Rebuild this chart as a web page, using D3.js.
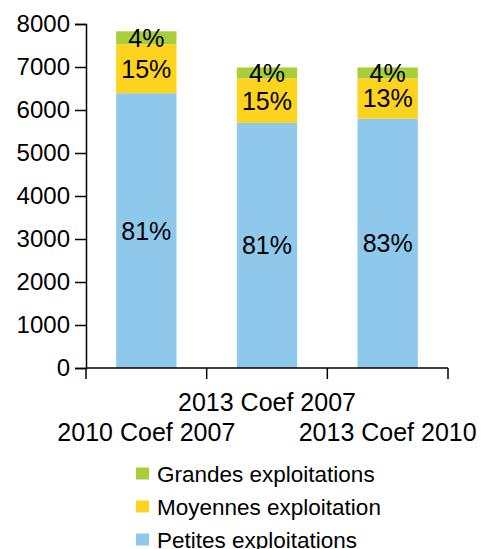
<!DOCTYPE html>
<html><head><meta charset="utf-8">
<script src="https://cdn.jsdelivr.net/npm/d3@7"></script>
<style>body{margin:0;background:#fff}svg{display:block;font-family:"Liberation Sans",Arial,sans-serif}</style>
</head><body><svg id="c" width="481" height="549"></svg>
<script>
const categories = ["2010 Coef 2007", "2013 Coef 2007", "2013 Coef 2010"];
const seriesNames = ["Petites exploitations", "Moyennes exploitation", "Grandes exploitations"];
const petites = [6390, 5700, 5800];
const moyennes = [1140, 1035, 935];
const grandes = [300, 255, 255];
const petitesLabels = ["81%", "81%", "83%"];
const moyennesLabels = ["15%", "15%", "13%"];
const grandesLabels = ["4%", "4%", "4%"];
const yTicks = [0, 1000, 2000, 3000, 4000, 5000, 6000, 7000, 8000];
const colors = ["#8ec8eb", "#fdd31e", "#a9cf38"];

const svg = d3.select("#c");
const x = d3.scaleBand().domain(categories).range([86, 448]).paddingInner(0.5).paddingOuter(0.25);
const xb = d3.scaleBand().domain(categories).range([86, 448]);
const y = d3.scaleLinear().domain([0, 8000]).range([368, 24]);

const values = [petites, moyennes, grandes];
const labels = [petitesLabels, moyennesLabels, grandesLabels];
const rows = categories.map((c, i) => {
  const o = {cat: c};
  seriesNames.forEach((s, k) => o[s] = values[k][i]);
  return o;
});
const stack = d3.stack().keys(seriesNames)(rows);

stack.forEach((layer, k) => {
  svg.append("g").selectAll("rect").data(layer).join("rect")
    .attr("x", d => x(d.data.cat))
    .attr("width", x.bandwidth())
    .attr("y", d => y(d[1]))
    .attr("height", d => y(d[0]) - y(d[1]))
    .attr("fill", colors[k]);
});
stack.forEach((layer, k) => {
  svg.append("g").selectAll("text").data(layer).join("text")
    .attr("x", d => x(d.data.cat) + x.bandwidth() / 2)
    .attr("y", d => (y(d[0]) + y(d[1])) / 2)
    .attr("dy", "0.36em")
    .attr("text-anchor", "middle")
    .attr("font-size", 25)
    .attr("fill", "#000")
    .text((d, i) => labels[k][i]);
});

// Y axis
const ya = svg.append("g").attr("transform", "translate(86,0)")
  .call(d3.axisLeft(y).tickValues(yTicks).tickSize(11).tickPadding(5).tickFormat(d3.format("d")));
ya.select(".domain").attr("stroke", "#000").attr("stroke-width", 1.5);
ya.selectAll(".tick line").attr("stroke", "#000").attr("stroke-width", 1.5);
ya.selectAll("text").attr("font-size", 24).attr("fill", "#000").attr("font-family", "Liberation Sans, Arial, sans-serif");

// X axis
const xa = svg.append("g").attr("transform", "translate(0,368)");
xa.append("line").attr("x1", 86).attr("x2", 448).attr("y1", 0).attr("y2", 0).attr("stroke", "#000").attr("stroke-width", 1.5);
const bounds = categories.map(c => xb(c)).concat([xb(categories[categories.length - 1]) + xb.bandwidth()]);
xa.selectAll("line.t").data(bounds).join("line").attr("class", "t")
  .attr("x1", d => d).attr("x2", d => d).attr("y1", 0).attr("y2", 11)
  .attr("stroke", "#000").attr("stroke-width", 1.5);
xa.selectAll("text").data(categories).join("text")
  .attr("x", d => xb(d) + xb.bandwidth() / 2)
  .attr("y", (d, i) => i % 2 === 1 ? 43 : 73)
  .attr("text-anchor", "middle")
  .attr("font-size", 25)
  .attr("fill", "#000")
  .text(d => d);

// Legend
svg.append("clipPath").attr("id", "lc").append("rect").attr("x", 0).attr("y", 450).attr("width", 380).attr("height", 99);
const leg = svg.append("g").attr("clip-path", "url(#lc)");
const legOrder = [2, 1, 0];
legOrder.forEach((k, j) => {
  const cy = 473.5 + j * 33;
  leg.append("rect").attr("x", 136).attr("y", cy - 6).attr("width", 13).attr("height", 12).attr("fill", colors[k]);
  leg.append("text").attr("x", 157).attr("y", cy).attr("dy", "0.36em")
    .attr("font-size", 22.5).attr("fill", "#000").text(seriesNames[k]);
});
</script></body></html>
